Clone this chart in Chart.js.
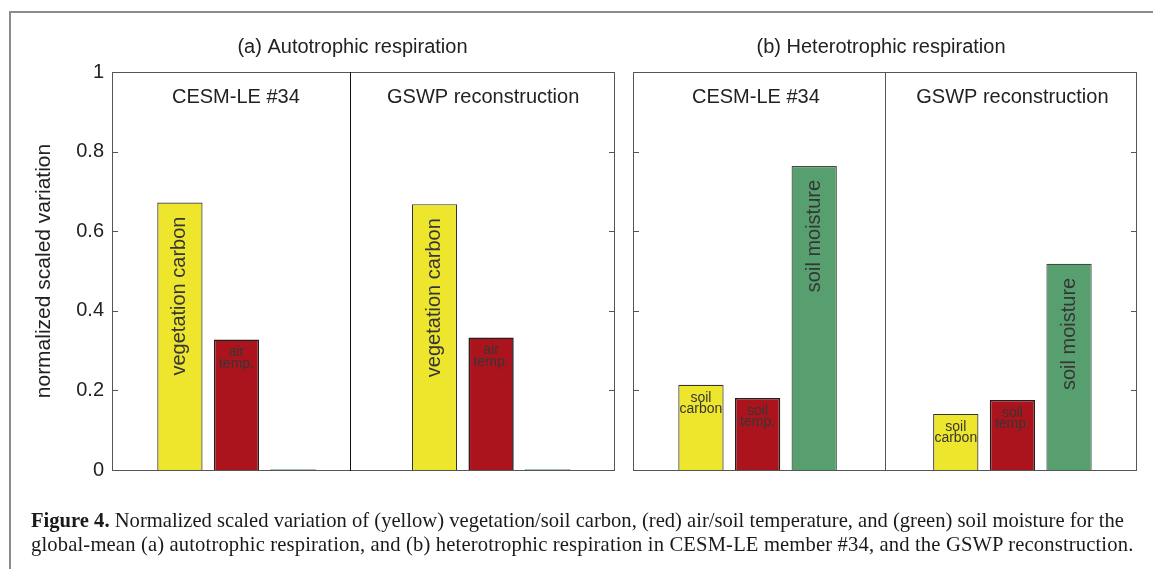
<!DOCTYPE html>
<html>
<head>
<meta charset="utf-8">
<script src="https://cdn.jsdelivr.net/npm/chart.js@4.4.1/dist/chart.umd.min.js"></script>
<style>
  body { margin: 0; background: #fff; width: 1153px; height: 569px; overflow: hidden; position: relative; }
  #frame { position: absolute; left: 9px; top: 11px; right: -4px; bottom: -4px; border-top: 2px solid #8c8c8c; border-left: 2px solid #8c8c8c; }
  canvas { position: absolute; top: 0; }
  #panelA { left: 0; }
  #panelB { left: 625px; }
  #caption { position: absolute; left: 31px; top: 508px; font: 20.6px/24px "Liberation Serif", "DejaVu Serif", serif; color: #1a1a1a; white-space: nowrap; }
  #caption .l2 { letter-spacing: 0.15px; }
</style>
</head>
<body>
<div id="frame"></div>
<canvas id="panelA" width="625" height="569"></canvas>
<canvas id="panelB" width="528" height="569"></canvas>
<div id="caption"><b>Figure 4.</b> Normalized scaled variation of (yellow) vegetation/soil carbon, (red) air/soil temperature, and (green) soil moisture for the<br><span class="l2">global-mean (a) autotrophic respiration, and (b) heterotrophic respiration in CESM-LE member #34, and the GSWP reconstruction.</span></div>
<script>
document.addEventListener("DOMContentLoaded", () => {
  // groups inside each panel
  const groups = ['CESM-LE #34', 'GSWP reconstruction'];

  // (a) autotrophic respiration: [CESM-LE #34, GSWP]
  const autoCarbon = [0.672, 0.668];
  const autoTemp = [0.328, 0.333];
  const autoMoisture = [0.002, 0.002];

  // (b) heterotrophic respiration: [CESM-LE #34, GSWP]
  const heteroCarbon = [0.214, 0.141];
  const heteroTemp = [0.181, 0.176];
  const heteroMoisture = [0.764, 0.518];

  const yTicks = [0, 0.2, 0.4, 0.6, 0.8, 1];

  const autoLabels = ['vegetation carbon', 'air\ntemp.', ''];
  const heteroLabels = ['soil\ncarbon', 'soil\ntemp.', 'soil moisture'];

  const colors = ['#EEE62C', '#AC141D', '#589F6F'];
  const edges = ['#333333', '#2a1c1c', '#3e4a42'];
  const sans = '"Liberation Sans", Arial, sans-serif';
  const ink = '#222';

  // where things sit along the x axis (data units, 1 unit = bar spacing)
  const groupStart = [1.2, 5.7];

  const makeDecor = (p) => ({
    id: 'decor',
    afterDatasetsDraw(chart) {
      const { ctx, chartArea: a, scales: { x, y } } = chart;
      ctx.save();

      // bar labels
      chart.data.datasets.forEach((ds, di) => {
        const text = p.labels[di];
        if (!text) return;
        chart.getDatasetMeta(di).data.forEach((bar) => {
          ctx.fillStyle = '#363636';
          if (text.includes('\n')) {
            ctx.font = '14px ' + sans;
            ctx.textAlign = 'center';
            ctx.textBaseline = 'middle';
            text.split('\n').forEach((line, k) => {
              ctx.fillText(line, bar.x, bar.y + 13 + k * 11.5);
            });
          } else {
            ctx.save();
            ctx.font = '20px ' + sans;
            ctx.translate(bar.x, bar.y + 14);
            ctx.rotate(-Math.PI / 2);
            ctx.textAlign = 'right';
            ctx.textBaseline = 'middle';
            ctx.fillText(text, 0, 0);
            ctx.restore();
          }
        });
      });

      // frame
      ctx.strokeStyle = '#555';
      ctx.lineWidth = 1;
      ctx.strokeRect(Math.round(a.left) + 0.5, Math.round(a.top) + 0.5,
        Math.round(a.right - a.left) - 1, Math.round(a.bottom - a.top));

      // inward ticks on both sides
      yTicks.forEach((v) => {
        const py = Math.round(y.getPixelForValue(v)) + 0.5;
        ctx.beginPath();
        ctx.moveTo(a.left, py); ctx.lineTo(a.left + 6, py);
        ctx.moveTo(a.right, py); ctx.lineTo(a.right - 6, py);
        ctx.stroke();
      });

      // divider between the two groups
      const dx = Math.round(x.getPixelForValue(p.divider)) + 0.5;
      ctx.strokeStyle = p.dividerColor;
      ctx.beginPath();
      ctx.moveTo(dx, a.top); ctx.lineTo(dx, a.bottom + 1);
      ctx.stroke();

      // titles
      ctx.fillStyle = ink;
      ctx.textAlign = 'center';
      ctx.textBaseline = 'middle';
      ctx.font = '20px ' + sans;
      ctx.fillText(p.title, x.getPixelForValue(p.titleX), 47);
      groups.forEach((g, i) => {
        ctx.fillText(g, x.getPixelForValue(p.groupX[i]), 97);
      });
      ctx.restore();
    }
  });

  const makePanel = (id, p) => {
    const series = [p.carbon, p.temp, p.moisture];
    new Chart(document.getElementById(id).getContext('2d'), {
      type: 'bar',
      data: {
        datasets: series.map((vals, si) => ({
          label: ['carbon', 'temperature', 'soil moisture'][si],
          data: vals.map((v, gi) => ({ x: groupStart[gi] + si, y: v })),
          backgroundColor: colors[si],
          borderColor: edges[si],
          borderWidth: si === 1 ? 1.6 : 1.2
        }))
      },
      options: {
        responsive: false,
        animation: false,
        layout: { padding: p.padding },
        datasets: { bar: { grouped: false, barPercentage: 0.8, categoryPercentage: 1 } },
        scales: {
          x: {
            type: 'linear', min: 0, max: p.xMax, offset: false, display: false,
            // hidden axis: keep one tick so bar width follows bar spacing only
            afterBuildTicks: (s) => { s.ticks = [{ value: 0 }]; }
          },
          y: {
            min: 0, max: 1,
            display: p.showAxis,
            afterBuildTicks: (s) => { s.ticks = yTicks.map((v) => ({ value: v })); },
            afterFit: (s) => { s.width = p.axisWidth; },
            grid: { display: false, drawTicks: false },
            border: { display: false },
            ticks: { padding: 8, color: ink, font: { family: sans, size: 20 }, callback: (v) => String(v) },
            title: {
              display: true,
              text: 'normalized scaled variation',
              color: ink,
              font: { family: sans, size: 21 },
              padding: { top: 32, bottom: 0 }
            }
          }
        },
        plugins: { legend: { display: false }, tooltip: { enabled: false } }
      },
      plugins: [makeDecor(p)]
    });
  };

  makePanel('panelA', {
    carbon: autoCarbon, temp: autoTemp, moisture: autoMoisture,
    labels: autoLabels,
    title: '(a) Autotrophic respiration',
    titleX: 4.25, divider: 4.21, groupX: [2.19, 6.56], xMax: 8.89,
    dividerColor: '#111',
    showAxis: true, axisWidth: 112,
    padding: { left: 0, right: 10, top: 72, bottom: 99 }
  });

  makePanel('panelB', {
    carbon: heteroCarbon, temp: heteroTemp, moisture: heteroMoisture,
    labels: heteroLabels,
    title: '(b) Heterotrophic respiration',
    titleX: 4.38, divider: 4.45, groupX: [2.17, 6.70], xMax: 8.9,
    dividerColor: '#555',
    showAxis: false, axisWidth: 0,
    padding: { left: 8, right: 16, top: 72, bottom: 99 }
  });
});
</script>
</body>
</html>
